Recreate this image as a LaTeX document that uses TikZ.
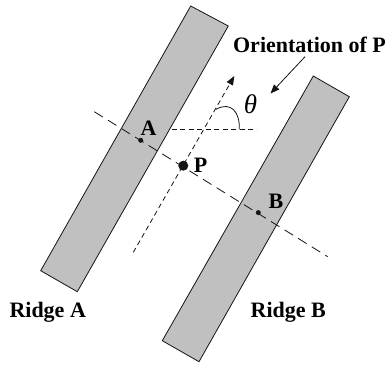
\documentclass[tikz,border=0pt]{standalone}
\usepackage{fontspec}
\setmainfont{Liberation Serif}
\usepackage{tikz}
\usetikzlibrary{arrows.meta, positioning, calc}
\definecolor{ridgegray}{RGB}{192,192,192}
\definecolor{mydark}{RGB}{20,20,20}
\tikzset{
  ridge/.style={draw=mydark, fill=ridgegray, line width=0.8pt},
  bigdot/.style={circle, fill=mydark, inner sep=0pt, minimum size=10pt},
  smalldot/.style={circle, fill=mydark, inner sep=0pt, minimum size=5pt},
  longdash/.style={color=mydark, line width=0.8pt, dash pattern=on 10pt off 6pt},
  shortdash/.style={color=mydark, line width=0.8pt, dash pattern=on 5pt off 3.5pt},
  arrow/.style={-{Triangle[length=9pt,width=7pt]}, color=mydark},
  lbl/.style={font=\fontsize{22}{25}\selectfont\bfseries, inner sep=0pt}
}
\begin{document}
\begin{tikzpicture}[x=1pt, y=-1pt]
    \useasboundingbox (0,0) rectangle (387,365);
    % ridges
    \draw[ridge] (190.7,6) -- (228.3,26) -- (77.3,291.7) -- (40.7,270.7) -- cycle;
    \draw[ridge] (313.3,76) -- (349.3,96.7) -- (199,361.7) -- (162.3,340.7) -- cycle;

    % line through A, P and B
    \coordinate (abstart) at (94.3,111.7);
    \coordinate (abend) at (327.7,256.7);
    \draw[longdash] (abstart) -- (abend);

    % orientation of P
    \coordinate (orbase) at (133.3,252.3);
    \coordinate (ortip) at (234.3,76);
    \draw[shortdash, arrow] (orbase) -- (ortip);
    \coordinate (hzstart) at (171.7,129.3);
    \coordinate (hzend) at (256.7,129.3);
    \draw[shortdash] (hzstart) -- (hzend);
    \draw[color=mydark, line width=0.8pt] (216,109.3) .. controls (231,101) and (240,112) .. (239.3,129.3);
    \node[inner sep=0pt, font=\fontsize{27}{30}\selectfont\itshape] (theta) at (250.5,104.5) {θ};

    % points
    \node[smalldot] (A) at (140.7,140.3) {};
    \node[bigdot] (P) at (183.3,165.7) {};
    \node[smalldot] (B) at (258.3,212.6) {};
    \node[lbl] (Alabel) at (148.5,128) {A};
    \node[lbl] (Plabel) at (200.5,165) {P};
    \node[lbl] (Blabel) at (276,201.5) {B};

    % labels
    \node[lbl] (orient) at (309.5,45) {Orientation of P};
    \coordinate (pointer) at (305,56.7);
    \draw[arrow, line width=0.8pt] (pointer) -- (270.5,93.5);
    \node[lbl] (ridgeA) at (47.7,312.5) {Ridge A};
    \node[lbl] (ridgeB) at (288.3,312.5) {Ridge B};
\end{tikzpicture}
\end{document}
